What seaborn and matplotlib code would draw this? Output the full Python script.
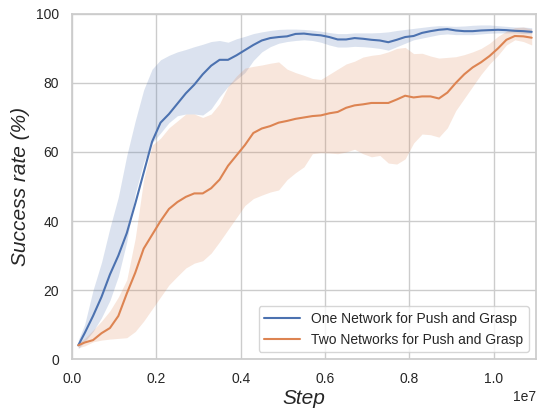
import numpy as np
import pandas as pd
import matplotlib
matplotlib.use("Agg")
import matplotlib.pyplot as plt
import seaborn as sns

# step positions (units of 1e7)
steps_e7 = [0.015, 0.03] + [round(0.05 + 0.02 * i, 2) for i in range(53)]
steps = [s * 1e7 for s in steps_e7]

one_mean = [4, 7.5, 12.5, 18, 24.5, 30, 36.5, 45, 54, 63, 68.5, 71, 74, 77, 79.5, 82.5, 85, 86.7, 86.7, 88,
            89.5, 91, 92.3, 93, 93.3, 93.5, 94.2, 94.3, 94, 93.8, 93.3, 92.6, 92.6, 93, 92.8, 92.5, 92.3, 91.8,
            92.5, 93.3, 93.6, 94.5, 95, 95.4, 95.6, 95.2, 95, 95, 95.2, 95.3, 95.4, 95.3, 95.1, 95, 94.8]
one_upper = [5.5, 10, 20, 28, 38, 47, 59, 69, 78, 84, 86.7, 88, 89, 89.7, 90.5, 91.2, 92, 92.3, 91.8, 92.8,
             93.5, 94.3, 94.8, 95.2, 95.5, 95.6, 95.6, 95.5, 95.3, 95, 94.6, 94.3, 94.3, 94.5, 94.5, 94.5, 94.6,
             94.8, 95.2, 95.5, 95.8, 96.1, 96.4, 96.6, 96.5, 96.4, 96.5, 96.7, 96.8, 96.8, 96.6, 96.4, 96.2,
             96.2, 96]
one_lower = [3, 5, 8, 12, 17, 24, 34, 48, 57, 62.6, 65.5, 68.5, 70.5, 71, 71, 70.7, 72.5, 76, 79, 81, 83,
             86.5, 89, 90.5, 91.5, 92, 92.3, 92.5, 92.3, 91.8, 91, 90.4, 90.4, 90.6, 90.5, 90.3, 90, 89.5, 90.5,
             91.5, 92.5, 93, 93.5, 94, 94.2, 94, 94, 94, 94.2, 94.4, 94.5, 94.5, 94.5, 94.3, 94.3]

two_mean = [4, 4.8, 5.5, 7.5, 9, 12.5, 19, 25, 32, 36, 40, 43.5, 45.5, 47, 48, 48, 49.5, 52, 56, 59, 62,
            65.5, 66.8, 67.5, 68.5, 69, 69.6, 70, 70.4, 70.6, 71.2, 71.6, 72.8, 73.5, 73.8, 74.2, 74.2, 74.2,
            75.2, 76.3, 75.8, 76.1, 76.1, 75.5, 77.2, 80, 82.5, 84.5, 86, 87.8, 90, 92.5, 93.6, 93.5, 93.1]
two_upper = [4.6, 6, 8.4, 11, 14, 18, 23, 35, 52, 62, 64, 67, 69, 71, 71, 70, 71, 74, 79, 82, 84.3, 84.8,
             85.2, 85.7, 86.1, 84, 83, 82.2, 81.3, 81, 82.5, 84, 85.5, 86.3, 87.5, 88, 88.3, 89, 90, 90.3, 88.5,
             88.6, 87.8, 87.2, 87.4, 87.6, 88.2, 89, 90, 91.5, 93.5, 95, 96, 96.2, 95.6]
two_lower = [3.3, 3.8, 5, 5.5, 5.8, 6, 6.2, 8, 11, 14.5, 18, 21.5, 24, 26.4, 27.8, 28.5, 30.7, 34, 37.5, 41,
             44.5, 46.5, 47.5, 48.4, 49, 52, 54, 55.7, 59.5, 59.8, 59.7, 59.5, 60, 60.8, 59.5, 58.6, 59, 56.8,
             56.5, 58, 62.6, 65.2, 65, 64.3, 67, 72, 75.5, 79, 82.5, 85.5, 88, 91, 92.5, 92, 91]

labels = ["One Network for Push and Grasp", "Two Networks for Push and Grasp"]

sns.set_theme(style="whitegrid")
plt.rcParams['font.family'] = ['Liberation Sans', 'DejaVu Sans']
palette = sns.color_palette("deep")

df = pd.concat([
    pd.DataFrame({"Step": steps, "Success": one_mean, "lo": one_lower, "hi": one_upper, "Method": labels[0]}),
    pd.DataFrame({"Step": steps, "Success": two_mean, "lo": two_lower, "hi": two_upper, "Method": labels[1]}),
])

fig, ax = plt.subplots(figsize=(5.37, 4.09), dpi=100)
fig.subplots_adjust(left=0.134, right=0.998, top=0.966, bottom=0.122)

for i, name in enumerate(labels):
    sub = df[df["Method"] == name]
    ax.fill_between(sub["Step"], sub["lo"], sub["hi"], color=palette[i], alpha=0.2, linewidth=0)

sns.lineplot(data=df, x="Step", y="Success", hue="Method", palette=palette[:2], linewidth=1.5, ax=ax)

ax.set_xlim(0, 1.1e7)
ax.set_ylim(0, 100)
ax.set_xlabel("Step", fontsize=15, fontstyle="italic", labelpad=2)
ax.set_ylabel("Success rate (%)", fontsize=15, fontstyle="italic", labelpad=4)
ax.tick_params(labelsize=10)
ax.xaxis.get_offset_text().set_fontsize(10)
ax.legend(loc="lower right", fontsize=10, title=None, handlelength=2.6)

fig.savefig("out.png", dpi=100)
